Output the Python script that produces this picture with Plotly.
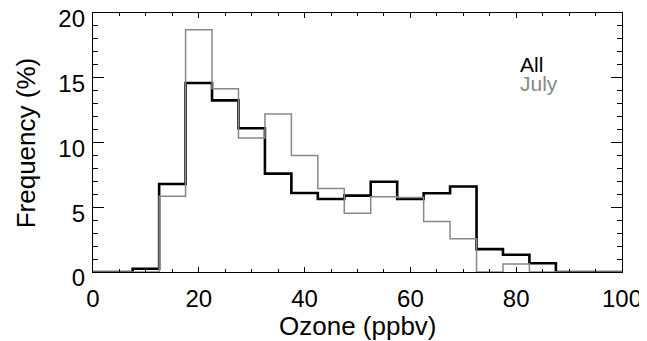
import plotly.graph_objects as go

# Bin centres (ppbv) and frequency (%) per 5-ppbv bin
ozone_bins = [0, 5, 10, 15, 20, 25, 30, 35, 40, 45, 50, 55, 60, 65, 70, 75, 80, 85, 90, 95, 100]
freq_all = [0, 0, 0.25, 6.8, 14.6, 13.25, 11.1, 7.6, 6.1, 5.64, 5.9, 6.97, 5.64, 6.08, 6.6, 1.77, 1.33, 0.67, 0, 0, 0]
freq_july = [0, 0, 0, 5.85, 18.7, 14.15, 10.35, 12.2, 9.0, 6.45, 4.54, 5.82, 5.75, 3.9, 2.56, 0, 0.62, 0, 0, 0, 0]

x_ticks = [0, 20, 40, 60, 80, 100]
y_ticks = [0, 5, 10, 15, 20]

FONT = "Liberation Sans, Arial, Helvetica, sans-serif"

fig = go.Figure()
fig.add_trace(go.Scatter(x=ozone_bins, y=freq_all, mode="lines", line_shape="hvh",
                         line=dict(color="black", width=2.6), name="All", showlegend=False))
fig.add_trace(go.Scatter(x=ozone_bins, y=freq_july, mode="lines", line_shape="hvh",
                         line=dict(color="#888888", width=1.5), name="July", showlegend=False))

fig.add_annotation(x=0.803, y=0.803, xref="paper", yref="paper", text="All", showarrow=False,
                   xanchor="left", yanchor="middle", font=dict(family=FONT, size=21, color="black"))
fig.add_annotation(x=0.803, y=0.726, xref="paper", yref="paper", text="July", showarrow=False,
                   xanchor="left", yanchor="middle", font=dict(family=FONT, size=21, color="#888888"))

# axis titles
fig.add_annotation(x=0.5, y=-0.208, xref="paper", yref="paper", text="Ozone (ppbv)", showarrow=False,
                   xanchor="center", yanchor="middle", font=dict(family=FONT, size=26, color="black"))
fig.add_annotation(x=-0.127, y=0.5, xref="paper", yref="paper", text="Frequency (%)", showarrow=False,
                   textangle=-90, xanchor="center", yanchor="middle",
                   font=dict(family=FONT, size=26, color="black"))

fig.update_xaxes(range=[0, 100], tickvals=x_ticks, ticktext=[str(v) for v in x_ticks],
                 ticks="inside", ticklen=5, tickwidth=1, tickcolor="black",
                 minor=dict(dtick=5, ticks="inside", ticklen=2.6, tickcolor="black", tickwidth=1),
                 showline=True, linecolor="black", linewidth=1.3, mirror="allticks",
                 showgrid=False, zeroline=False, automargin=False,
                 ticklabelstandoff=5, ticklabeloverflow="allow",
                 tickfont=dict(family=FONT, size=24, color="black"))
fig.update_yaxes(range=[0, 20], tickvals=y_ticks, ticktext=[str(v) for v in y_ticks],
                 ticks="inside", ticklen=10.5, tickwidth=1, tickcolor="black",
                 minor=dict(dtick=1, ticks="inside", ticklen=5.2, tickcolor="black", tickwidth=1),
                 showline=True, linecolor="black", linewidth=1.3, mirror="allticks",
                 showgrid=False, zeroline=False, automargin=False,
                 ticklabelstandoff=2, ticklabelshift=6, ticklabeloverflow="allow",
                 tickfont=dict(family=FONT, size=24, color="black"))

# page body adds an 8 px offset, so the figure is 8 px smaller and left/top margins shifted
fig.update_layout(width=639, height=333, plot_bgcolor="white", paper_bgcolor="white",
                  margin=dict(l=85, r=25, t=5, b=69))

fig.write_html("out.html")
